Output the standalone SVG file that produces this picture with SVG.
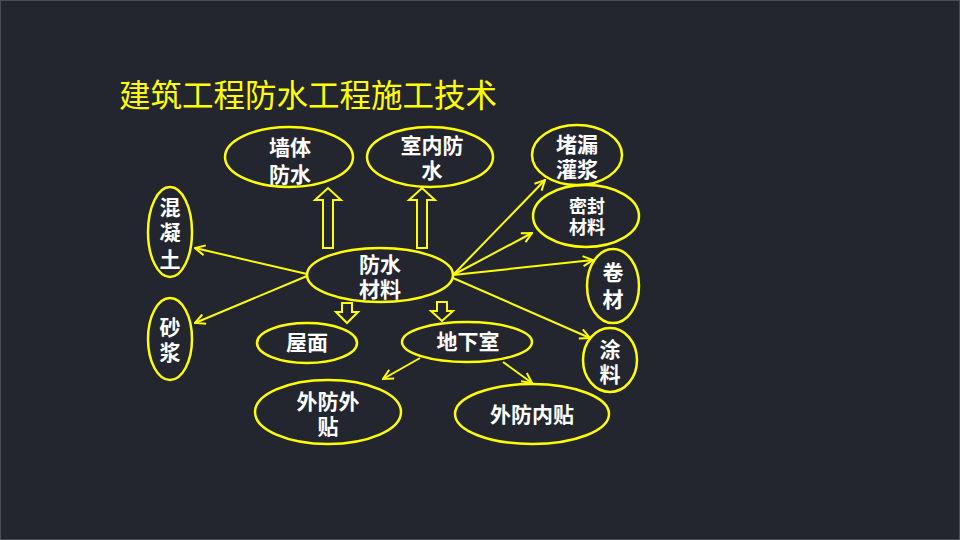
<svg xmlns="http://www.w3.org/2000/svg" width="960" height="540" viewBox="0 0 960 540">
<defs>
<style>
.n ellipse{fill:none;stroke:#ffff00;stroke-width:2.5}
.t{fill:#ffffff;font-family:"Noto Sans CJK SC","Liberation Sans",sans-serif;font-weight:bold;font-size:21px;text-anchor:middle}
.s{font-size:18px}
.c line{stroke:#ffff00;stroke-width:2;marker-end:url(#ah)}
.c path{fill:none;stroke:#ffff00;stroke-width:2;stroke-linejoin:miter}
</style>
<marker id="ah" viewBox="0 0 12 12" refX="11" refY="6" markerWidth="12" markerHeight="12" markerUnits="userSpaceOnUse" orient="auto">
<path d="M1,1 L11,6 L1,11" fill="none" stroke="#ffff00" stroke-width="2"/>
</marker>
</defs>
<rect x="0" y="0" width="960" height="540" fill="#23262f"/>
<rect x="0.5" y="0.5" width="959" height="539" fill="none" stroke="#4a4d55" stroke-width="1"/>
<text x="119" y="107" style="fill:#ffff00;font-family:'Noto Sans CJK SC','Liberation Sans',sans-serif;font-size:31.5px">建筑工程防水工程施工技术</text>

<g id="connectors" class="c">
<line x1="307" y1="274" x2="195" y2="248"/>
<line x1="307" y1="276" x2="195" y2="323"/>
<line x1="453" y1="275" x2="545" y2="180"/>
<line x1="453" y1="275" x2="532" y2="233"/>
<line x1="453" y1="275" x2="593" y2="260"/>
<line x1="453" y1="278" x2="590" y2="338"/>
<line x1="420" y1="358" x2="383" y2="379"/>
<line x1="503" y1="362" x2="532" y2="383"/>
<path d="M323,248 L323,200 L315,200 L328,188 L341,200 L333,200 L333,248 Z"/>
<path d="M417,248 L417,200 L409,200 L422,188 L435,200 L427,200 L427,248 Z"/>
<path d="M342,303 L352,303 L352,312 L358,312 L347,323 L336,312 L342,312 Z"/>
<path d="M437,302 L447,302 L447,311 L453,311 L442,321 L431,311 L437,311 Z"/>
</g>

<g id="wall" class="n"><ellipse cx="289" cy="157" rx="64" ry="30"/><text class="t" x="290" y="155">墙体<tspan x="290" dy="27">防水</tspan></text></g>
<g id="indoor" class="n"><ellipse cx="430" cy="157" rx="63" ry="30"/><text class="t" x="432" y="153">室内防<tspan x="432" dy="25">水</tspan></text></g>
<g id="concrete" class="n"><ellipse cx="170" cy="232" rx="22" ry="45"/><text class="t" x="170" y="215">混<tspan x="170" dy="25">凝</tspan><tspan x="170" dy="27">土</tspan></text></g>
<g id="mortar" class="n"><ellipse cx="170" cy="339" rx="22" ry="41"/><text class="t" x="170" y="335">砂<tspan x="170" dy="25">浆</tspan></text></g>
<g id="material" class="n"><ellipse cx="380" cy="275" rx="73" ry="27"/><text class="t" x="380" y="272">防水<tspan x="380" dy="25">材料</tspan></text></g>
<g id="plug" class="n"><ellipse cx="577" cy="155" rx="45" ry="30"/><text class="t" x="577" y="152">堵漏<tspan x="577" dy="25">灌浆</tspan></text></g>
<g id="seal" class="n"><ellipse cx="586" cy="216" rx="53" ry="31"/><text class="t s" x="587" y="213">密封<tspan x="587" dy="21">材料</tspan></text></g>
<g id="roll" class="n"><ellipse cx="613" cy="286" rx="26" ry="37"/><text class="t" x="613" y="280">卷<tspan x="613" dy="27">材</tspan></text></g>
<g id="coating" class="n"><ellipse cx="610" cy="360" rx="27" ry="32"/><text class="t" x="610" y="357">涂<tspan x="610" dy="25">料</tspan></text></g>
<g id="roof" class="n"><ellipse cx="307" cy="343" rx="50" ry="20"/><text class="t" x="307" y="350">屋面</text></g>
<g id="basement" class="n"><ellipse cx="467" cy="342" rx="65" ry="20"/><text class="t" x="468" y="349">地下室</text></g>
<g id="outer-outer" class="n"><ellipse cx="328" cy="412" rx="73" ry="32"/><text class="t" x="328" y="409">外防外<tspan x="328" dy="25">贴</tspan></text></g>
<g id="outer-inner" class="n"><ellipse cx="532" cy="414" rx="77" ry="30"/><text class="t" x="532" y="422">外防内贴</text></g>
</svg>
